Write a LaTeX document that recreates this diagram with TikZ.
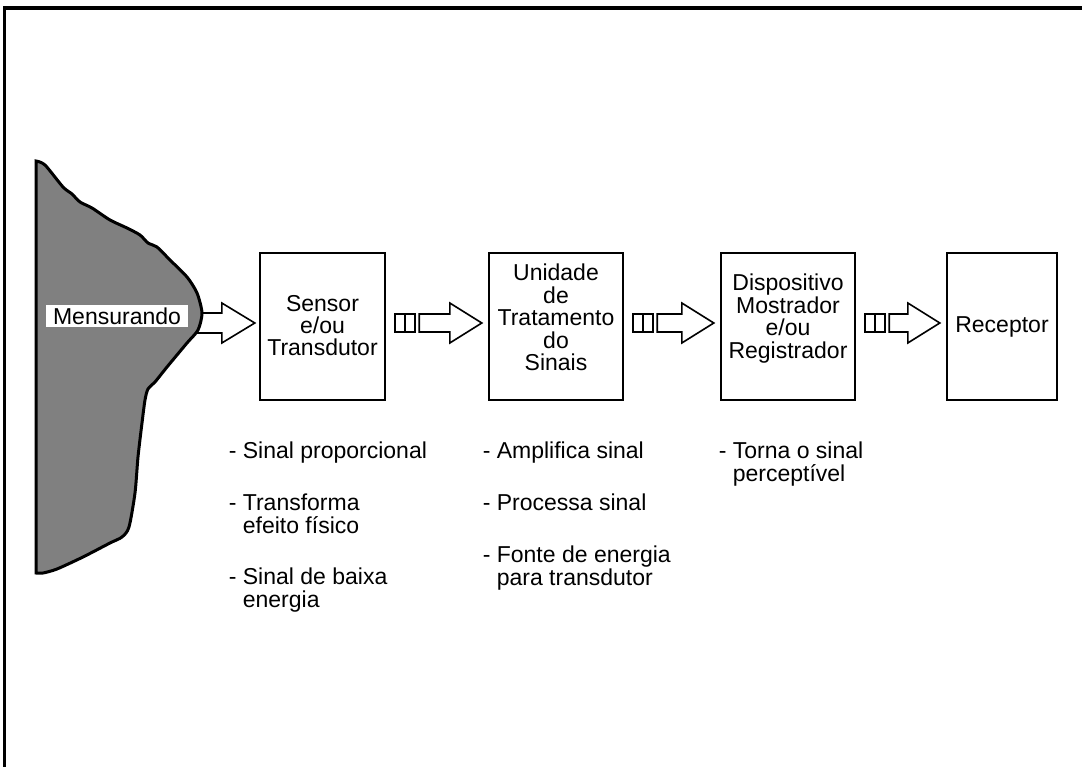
\documentclass[tikz,border=0pt]{standalone}
\usepackage{fontspec}
\setmainfont{Liberation Sans}
\usetikzlibrary{calc}

\tikzset{every picture/.style={line width=1.6pt}}
\tikzset{
  texto/.style={font=\fontsize{23}{22.4}\selectfont, inner sep=0pt},
  bloco/.style={draw, line width=2.4pt, minimum height=147, inner sep=0pt},
  rotulo/.style={texto, align=center},
  item/.style={texto, align=left, anchor=base west},
  seta/.style={draw, fill=white, line width=1.6pt, line join=miter},
}

\begin{document}
\begin{tikzpicture}[x=1pt,y=1pt,yscale=-1,xscale=1]
\useasboundingbox (0,0) rectangle (1082,767);

% moldura
\draw[line width=3.5pt] (4.5,767) -- (4.5,8) -- (1082,8);

% blocos
\node[bloco, minimum width=125] (sensor) at (322.5,326.5) {};
\node[bloco, minimum width=134] (unidade) at (556,326.5) {};
\node[bloco, minimum width=134] (mostrador) at (788,326.5) {};
\node[bloco, minimum width=110] (receptor) at (1002,326.5) {};

\node[rotulo] (sensor-t) at ($(sensor.center)+(0,-1)$) {Sensor\\e/ou\\Transdutor};
\node[rotulo] (unidade-t) at ($(unidade.center)+(0,-9)$) {Unidade\\de\\Tratamento\\do\\Sinais};
\node[rotulo] (mostrador-t) at ($(mostrador.center)+(0,-8)$) {Dispositivo\\Mostrador\\e/ou\\Registrador};
\node[rotulo] (receptor-t) at ($(receptor.center)+(0,0)$) {Receptor};

% seta do mensurando
\coordinate (fonte) at (190,323);
\coordinate (t0) at ($(sensor.west)+(-4,-3.5)$);
\draw[seta] ($(fonte)+(0,-10)$) -- ($(t0)+(-33,-10)$) -- ($(t0)+(-33,-20)$) -- (t0)
  -- ($(t0)+(-33,20)$) -- ($(t0)+(-33,10)$) -- ($(fonte)+(0,10)$);

% mensurando
\draw[line width=3pt, fill={rgb, 255:red, 128; green, 128; blue, 128}]
  plot[smooth, tension=0.45] coordinates {(36,161) (45,165) (63,187) (72,194) (80,202)
  (92,208) (110,220) (127,228) (140,235) (148,243) (157,247) (170,260) (187,277)
  (197,293) (202,313) (198,330) (187,343) (167,367) (155,382) (148,389) (145,400)
  (142,423) (138,457) (135,493) (129,527) (122,537) (110,543) (83,557) (57,569)
  (43,573) (36,573)} -- cycle;
\node[texto, fill=white, minimum width=142, minimum height=22] (mensurando) at (117,316) {Mensurando};

% setas de sinal
\foreach \a/\b in {sensor/unidade, unidade/mostrador, mostrador/receptor}{
  \coordinate (s) at ($(\a.east)+(9,-3.5)$);
  \coordinate (t) at ($(\b.west)+(-6,-3.5)$);
  \draw[seta] ($(s)+(0,-9)$) rectangle ($(s)+(10,9)$);
  \draw[seta] ($(s)+(10,-9)$) rectangle ($(s)+(20,9)$);
  \draw[seta] ($(s)+(24,-9)$) -- ($(t)+(-32,-9)$) -- ($(t)+(-32,-20)$) -- (t)
    -- ($(t)+(-32,20)$) -- ($(t)+(-32,9)$) -- ($(s)+(24,9)$) -- cycle;
}

% funcoes (base = ultima linha)
\node[item] (s1) at (228,458) {- Sinal proporcional};
\node[item] (s2) at (228,533) {- Transforma\\\hphantom{- }efeito físico};
\node[item] (s3) at (228,607) {- Sinal de baixa\\\hphantom{- }energia};
\node[item] (u1) at (482,458) {- Amplifica sinal};
\node[item] (u2) at (482,510) {- Processa sinal};
\node[item] (u3) at (482,585) {- Fonte de energia\\\hphantom{- }para transdutor};
\node[item] (m1) at (718,481) {- Torna o sinal\\\hphantom{- }perceptível};

\end{tikzpicture}
\end{document}
